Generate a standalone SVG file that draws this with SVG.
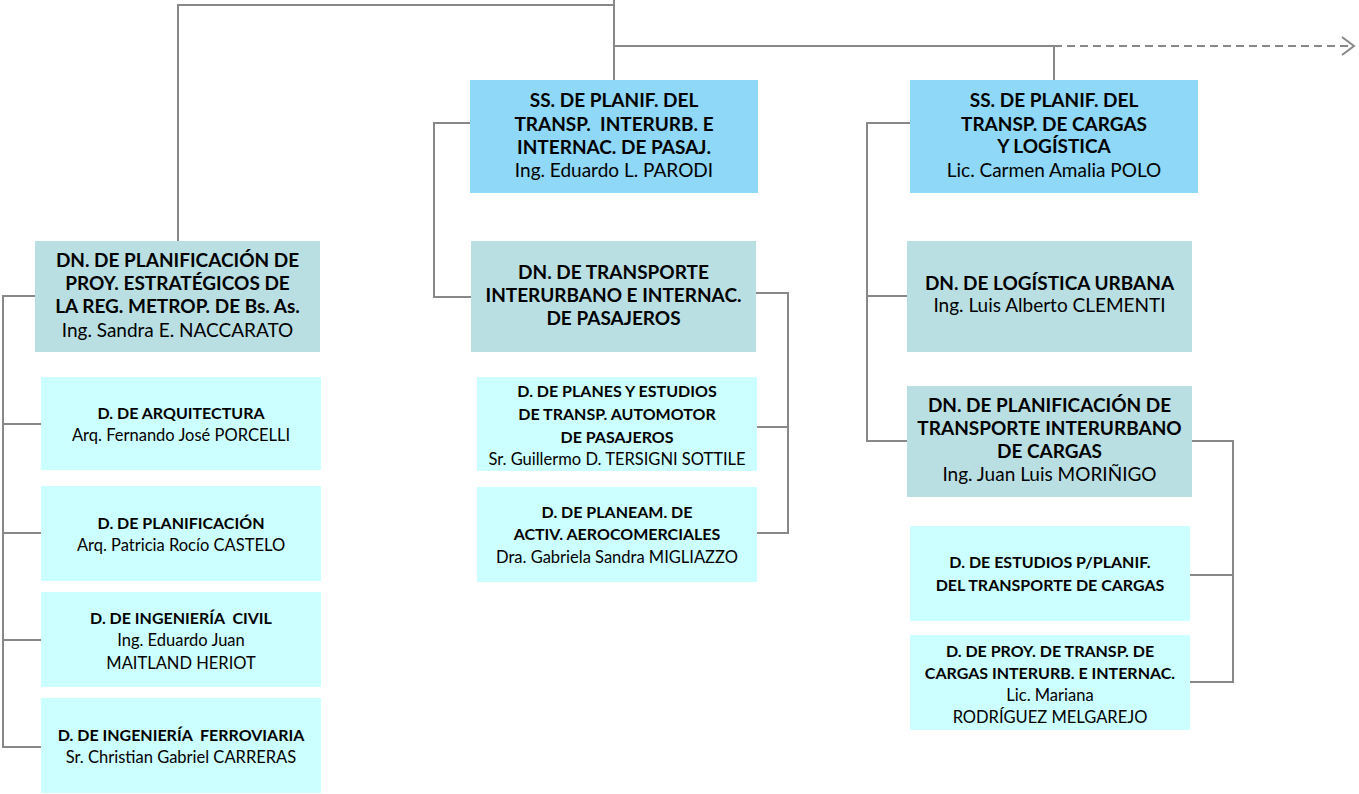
<svg xmlns="http://www.w3.org/2000/svg" width="1359" height="794" viewBox="0 0 1359 794">
<style>
.ss{fill:#8fd8f7}
.dn{fill:#b9dfe3}
.d{fill:#ccffff}
.ln{fill:none;stroke:#888;stroke-width:2}
text{font-family:Lato,"Open Sans",sans-serif;fill:#000;text-anchor:middle}
.t{font-weight:bold;font-size:19px}
.n{font-size:19px}
.ct{font-weight:bold;font-size:16px}
.cn{font-size:16.5px}
</style>
<defs>
<marker id="arr" markerWidth="16" markerHeight="20" refX="13" refY="10" orient="auto" markerUnits="userSpaceOnUse">
<path d="M1,1 L13,10 L1,19" fill="none" stroke="#888" stroke-width="2"/>
</marker>
</defs>
<rect width="1359" height="794" fill="#fff"/>
<g id="connectors">
<path class="ln" d="M614,0 V80"/>
<path class="ln" d="M614,5 H178 V241"/>
<path class="ln" d="M614,46 H1054 V80"/>
<path class="ln" d="M1054,46 H1354" stroke-dasharray="8,5" marker-end="url(#arr)"/>
<path class="ln" d="M35,296 H3 V747 H41"/>
<path class="ln" d="M3,424 H41 M3,533 H41 M3,640 H41"/>
<path class="ln" d="M471,123 H434 V297 H471"/>
<path class="ln" d="M756,293 H788 V533 H757 M788,427 H757"/>
<path class="ln" d="M910,123 H867 V441 H907 M867,296 H907"/>
<path class="ln" d="M1192,441 H1233 V682 H1190 M1233,575 H1190"/>
</g>
<g id="ss1">
<rect class="ss" x="470" y="80" width="288" height="113"/>
<text class="t" x="614" y="107">SS. DE PLANIF. DEL</text>
<text class="t" x="614" y="131" xml:space="preserve">TRANSP.  INTERURB. E</text>
<text class="t" x="614" y="154">INTERNAC. DE PASAJ.</text>
<text class="n" x="614" y="177">Ing. Eduardo L. PARODI</text>
</g>
<g id="ss2">
<rect class="ss" x="910" y="80" width="288" height="113"/>
<text class="t" x="1054" y="107">SS. DE PLANIF. DEL</text>
<text class="t" x="1054" y="131">TRANSP. DE CARGAS</text>
<text class="t" x="1054" y="153">Y LOGÍSTICA</text>
<text class="n" x="1054" y="177">Lic. Carmen Amalia POLO</text>
</g>
<g id="dn1">
<rect class="dn" x="35" y="241" width="285" height="111"/>
<text class="t" x="177.5" y="267">DN. DE PLANIFICACIÓN DE</text>
<text class="t" x="177.5" y="290">PROY. ESTRATÉGICOS DE</text>
<text class="t" x="177.5" y="313">LA REG. METROP. DE Bs. As.</text>
<text class="n" x="177.5" y="337">Ing. Sandra E. NACCARATO</text>
</g>
<g id="d-arq">
<rect class="d" x="41" y="377" width="280" height="93"/>
<text class="ct" x="181" y="419">D. DE ARQUITECTURA</text>
<text class="cn" x="181" y="441">Arq. Fernando José PORCELLI</text>
</g>
<g id="d-plan">
<rect class="d" x="41" y="486" width="280" height="95"/>
<text class="ct" x="181" y="529">D. DE PLANIFICACIÓN</text>
<text class="cn" x="181" y="551">Arq. Patricia Rocío CASTELO</text>
</g>
<g id="d-civil">
<rect class="d" x="41" y="592" width="280" height="95"/>
<text class="ct" x="181" y="624" xml:space="preserve">D. DE INGENIERÍA  CIVIL</text>
<text class="cn" x="181" y="646">Ing. Eduardo Juan</text>
<text class="cn" x="181" y="669">MAITLAND HERIOT</text>
</g>
<g id="d-ferro">
<rect class="d" x="41" y="698" width="280" height="95"/>
<text class="ct" x="181" y="741" xml:space="preserve">D. DE INGENIERÍA  FERROVIARIA</text>
<text class="cn" x="181" y="763">Sr. Christian Gabriel CARRERAS</text>
</g>
<g id="dn2">
<rect class="dn" x="471" y="241" width="285" height="111"/>
<text class="t" x="613.5" y="279">DN. DE TRANSPORTE</text>
<text class="t" x="613.5" y="302">INTERURBANO E INTERNAC.</text>
<text class="t" x="613.5" y="325">DE PASAJEROS</text>
</g>
<g id="d-planes">
<rect class="d" x="477" y="377" width="280" height="94"/>
<text class="ct" x="617" y="397">D. DE PLANES Y ESTUDIOS</text>
<text class="ct" x="617" y="420">DE TRANSP. AUTOMOTOR</text>
<text class="ct" x="617" y="443">DE PASAJEROS</text>
<text class="cn" x="617" y="465">Sr. Guillermo D. TERSIGNI SOTTILE</text>
</g>
<g id="d-aero">
<rect class="d" x="477" y="487" width="280" height="95"/>
<text class="ct" x="617" y="518">D. DE PLANEAM. DE</text>
<text class="ct" x="617" y="540">ACTIV. AEROCOMERCIALES</text>
<text class="cn" x="617" y="563">Dra. Gabriela Sandra MIGLIAZZO</text>
</g>
<g id="dn3">
<rect class="dn" x="907" y="241" width="285" height="111"/>
<text class="t" x="1049.5" y="290">DN. DE LOGÍSTICA URBANA</text>
<text class="n" x="1049.5" y="312">Ing. Luis Alberto CLEMENTI</text>
</g>
<g id="dn4">
<rect class="dn" x="907" y="386" width="285" height="111"/>
<text class="t" x="1049.5" y="412">DN. DE PLANIFICACIÓN DE</text>
<text class="t" x="1049.5" y="435">TRANSPORTE INTERURBANO</text>
<text class="t" x="1049.5" y="458">DE CARGAS</text>
<text class="n" x="1049.5" y="481">Ing. Juan Luis MORIÑIGO</text>
</g>
<g id="d-estudios">
<rect class="d" x="910" y="526" width="280" height="95"/>
<text class="ct" x="1050" y="568">D. DE ESTUDIOS P/PLANIF.</text>
<text class="ct" x="1050" y="591">DEL TRANSPORTE DE CARGAS</text>
</g>
<g id="d-proy">
<rect class="d" x="910" y="635" width="280" height="95"/>
<text class="ct" x="1050" y="657">D. DE PROY. DE TRANSP. DE</text>
<text class="ct" x="1050" y="679">CARGAS INTERURB. E INTERNAC.</text>
<text class="cn" x="1050" y="701">Lic. Mariana</text>
<text class="cn" x="1050" y="723">RODRÍGUEZ MELGAREJO</text>
</g>
</svg>
